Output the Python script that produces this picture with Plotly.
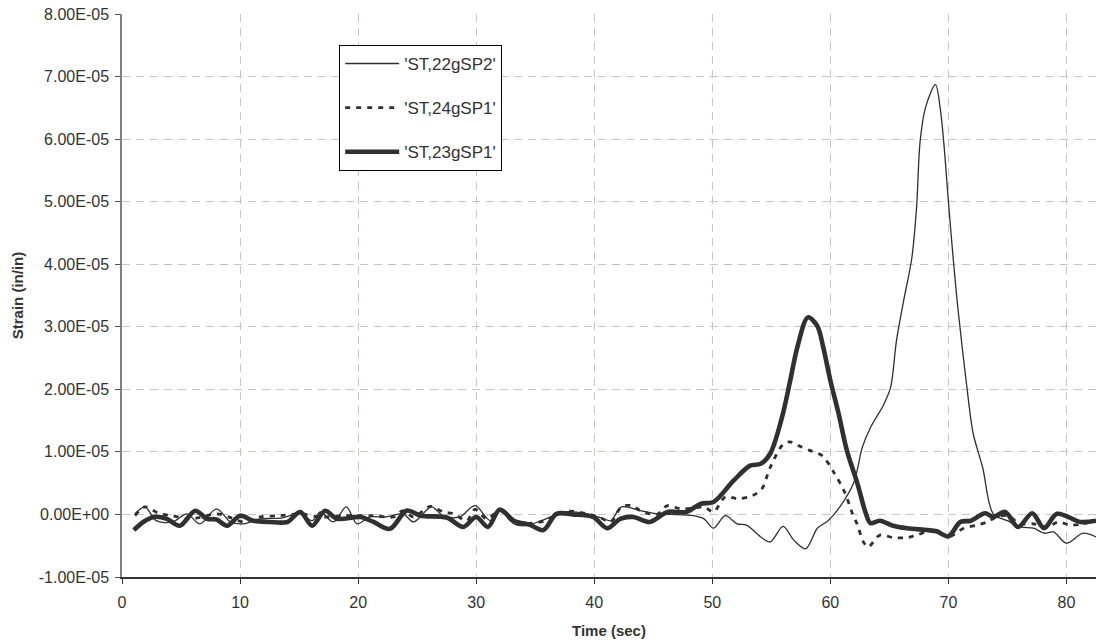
import plotly.graph_objects as go

# Strain gauge records (values in units of 1e-5 in/in)
t_22g = [1.1, 1.95, 2.9, 4.3, 5.5, 6.6, 8.0, 9.2, 10.3, 11.7, 13.4, 15.1, 16.1, 16.8, 17.9,
         19.0, 19.9, 21.0, 22.4, 23.8, 24.7, 26.2, 27.2, 28.6, 29.9, 31.2, 32.0, 33.2, 34.2,
         35.5, 36.3, 37.4, 39.4, 40.8, 41.4, 42.3, 43.9, 45.3, 46.5, 48.4, 49.3, 50.1, 51.1,
         52.1, 52.9, 54.1, 54.9, 56.0, 56.9, 57.9, 58.9, 59.8, 60.8, 62.0, 62.7, 63.4, 64.5,
         65.1, 65.6, 66.2, 66.9, 67.3, 67.6, 68.05, 68.9, 69.3, 69.6, 70.0, 70.4, 70.8, 71.7,
         72.1, 72.9, 73.8, 75.0, 76.1, 77.2, 78.1, 78.9, 80.0, 81.4, 82.5]
s_22g = [0.01, 0.12, -0.10, -0.12, 0.01, -0.15, 0.09, -0.12, -0.15, -0.07, -0.06, 0.01, -0.10,
         0.04, -0.12, 0.12, -0.15, -0.04, -0.04, 0.01, -0.12, 0.12, -0.02, -0.04, 0.14, -0.10,
         0.06, -0.15, -0.18, -0.10, -0.04, 0.04, 0.01, -0.07, -0.10, 0.12, 0.06, 0.01, 0.0,
         -0.02, -0.07, -0.22, -0.02, -0.15, -0.17, -0.36, -0.44, -0.19, -0.41, -0.55, -0.22,
         -0.10, 0.12, 0.52, 1.07, 1.39, 1.75, 2.03, 2.78, 3.41, 4.10, 4.90, 5.96, 6.50, 6.87,
         6.50, 5.96, 5.00, 4.10, 3.30, 1.82, 1.29, 0.75, 0.01, -0.10, -0.20, -0.22, -0.30,
         -0.28, -0.46, -0.30, -0.36]

t_24g = [1.1, 1.95, 3.2, 4.3, 5.5, 6.6, 8.0, 9.2, 10.3, 11.7, 13.4, 15.1, 16.8, 19.0, 21.3,
         23.0, 23.8, 24.7, 26.1, 27.2, 28.1, 29.2, 29.9, 30.9, 32.0, 33.3, 34.2, 35.9, 37.4,
         38.2, 39.4, 40.5, 41.4, 42.3, 43.2, 43.9, 45.3, 46.2, 47.3, 48.4, 49.3, 50.1, 51.1,
         52.2, 53.4, 54.2, 54.9, 56.0, 56.6, 57.3, 58.3, 59.3, 60.3, 61.2, 61.9, 62.3, 62.8,
         63.2, 64.2, 65.3, 66.5, 67.3, 68.7, 70.0, 71.3, 72.4, 73.3, 74.1, 75.0, 76.1, 77.2,
         78.4, 79.3, 80.3, 81.4, 82.5]
s_24g = [-0.02, 0.12, 0.01, -0.02, -0.07, -0.05, 0.01, -0.05, -0.12, -0.04, -0.02, 0.01,
         -0.04, -0.02, -0.02, -0.04, 0.06, -0.04, 0.13, 0.04, 0.01, -0.10, 0.08, -0.07, 0.06,
         -0.15, -0.15, -0.10, 0.04, 0.05, 0.01, -0.05, -0.12, 0.12, 0.14, 0.06, 0.0, 0.14,
         0.09, 0.10, 0.12, 0.04, 0.28, 0.25, 0.30, 0.41, 0.75, 1.12, 1.16, 1.10, 1.02, 0.94,
         0.67, 0.36, 0.0, -0.17, -0.44, -0.52, -0.33, -0.37, -0.37, -0.33, -0.26, -0.36,
         -0.22, -0.17, -0.12, -0.04, -0.02, -0.15, -0.15, -0.20, -0.12, -0.17, -0.15, -0.10]

t_23g = [1.0, 1.8, 2.7, 3.8, 4.9, 6.2, 7.2, 8.0, 8.9, 10.0, 11.1, 12.5, 14.0, 15.1, 16.1,
         17.2, 18.2, 20.2, 21.3, 22.7, 24.1, 25.3, 27.5, 28.9, 30.0, 31.0, 32.0, 33.2, 34.6,
         35.7, 36.8, 38.2, 39.9, 41.1, 42.2, 43.3, 44.7, 46.2, 47.8, 49.0, 50.1, 51.8, 53.2,
         54.1, 54.9, 55.9, 56.6, 57.2, 58.1, 58.9, 59.4, 60.0, 60.7, 61.4, 62.3, 63.0, 63.4,
         64.2, 65.3, 66.5, 68.2, 69.0, 70.0, 71.0, 71.9, 73.1, 73.8, 74.8, 75.9, 77.1, 78.1,
         79.2, 81.2, 82.5]
s_23g = [-0.25, -0.12, -0.04, -0.07, -0.18, 0.06, -0.07, -0.08, -0.18, -0.02, -0.10, -0.12,
         -0.12, 0.04, -0.18, 0.06, -0.07, -0.04, -0.12, -0.23, 0.06, -0.02, -0.05, -0.20,
         -0.04, -0.20, 0.08, -0.10, -0.17, -0.25, 0.01, 0.0, -0.04, -0.22, -0.07, -0.04,
         -0.12, 0.04, 0.04, 0.17, 0.20, 0.54, 0.78, 0.81, 0.97, 1.55, 2.14, 2.67, 3.15, 3.01,
         2.67, 2.14, 1.61, 1.02, 0.49, 0.02, -0.14, -0.10, -0.18, -0.22, -0.25, -0.27, -0.35,
         -0.12, -0.10, 0.02, -0.04, 0.04, -0.20, 0.02, -0.22, 0.01, -0.12, -0.10]

names = ["'ST,22gSP2'", "'ST,24gSP1'", "'ST,23gSP1'"]

x_ticks = [0, 10, 20, 30, 40, 50, 60, 70, 80]
y_ticks = [-1e-5, 0, 1e-5, 2e-5, 3e-5, 4e-5, 5e-5, 6e-5, 7e-5, 8e-5]
y_labels = ["-1.00E-05", "0.00E+00", "1.00E-05", "2.00E-05", "3.00E-05",
            "4.00E-05", "5.00E-05", "6.00E-05", "7.00E-05", "8.00E-05"]

SCALE = 1e-5
INK = "#303030"
FONT = "Liberation Sans, Arial, sans-serif"

fig = go.Figure()
series = [
    (t_22g, s_22g, dict(width=1.3, dash="solid")),
    (t_24g, s_24g, dict(width=2.8, dash="5px,6px")),
    (t_23g, s_23g, dict(width=4.6, dash="solid")),
]
for i, (t, s, style) in enumerate(series):
    fig.add_trace(go.Scatter(
        x=t, y=[v * SCALE for v in s], mode="lines", name=names[i],
        legendgroup=f"g{i}",
        line=dict(color=INK, shape="spline", smoothing=0.9, **style),
    ))

grid_col = "#cdc3c3"
fig.update_layout(
    width=1096, height=640, autosize=False,
    margin=dict(l=122, r=0, t=14, b=63),
    paper_bgcolor="white", plot_bgcolor="white",
    font=dict(family=FONT, size=16, color="#333333"),
    showlegend=True,
    legend=dict(
        x=0.223, y=0.945, xanchor="left", yanchor="top",
        bgcolor="white", bordercolor="#000000", borderwidth=1,
        font=dict(size=17, color="#333333"),
        tracegroupgap=19, traceorder="grouped", itemwidth=54,
    ),
    xaxis=dict(
        range=[0, 82.5], tickvals=x_ticks, ticktext=[str(v) for v in x_ticks],
        showgrid=True, gridcolor=grid_col, griddash="8px,6px", gridwidth=1,
        zeroline=False, showline=True, linecolor="#333333", linewidth=1.5,
        ticks="outside", ticklen=5, tickcolor="#333333", ticklabelstandoff=5,
        title=dict(text="<b>Time (sec)</b>", font=dict(size=15), standoff=16),
    ),
    yaxis=dict(
        range=[-1e-5, 8e-5], tickvals=y_ticks, ticktext=y_labels,
        showgrid=True, gridcolor=grid_col, griddash="8px,6px", gridwidth=1,
        zeroline=False, showline=True, linecolor="#7f7f7f", linewidth=1.5,
        ticks="outside", ticklen=5, tickcolor="#555555", ticklabelstandoff=3,
        title=dict(text="<b>Strain (in/in)</b>", font=dict(size=15), standoff=12),
    ),
)

fig.write_html("out.html")
